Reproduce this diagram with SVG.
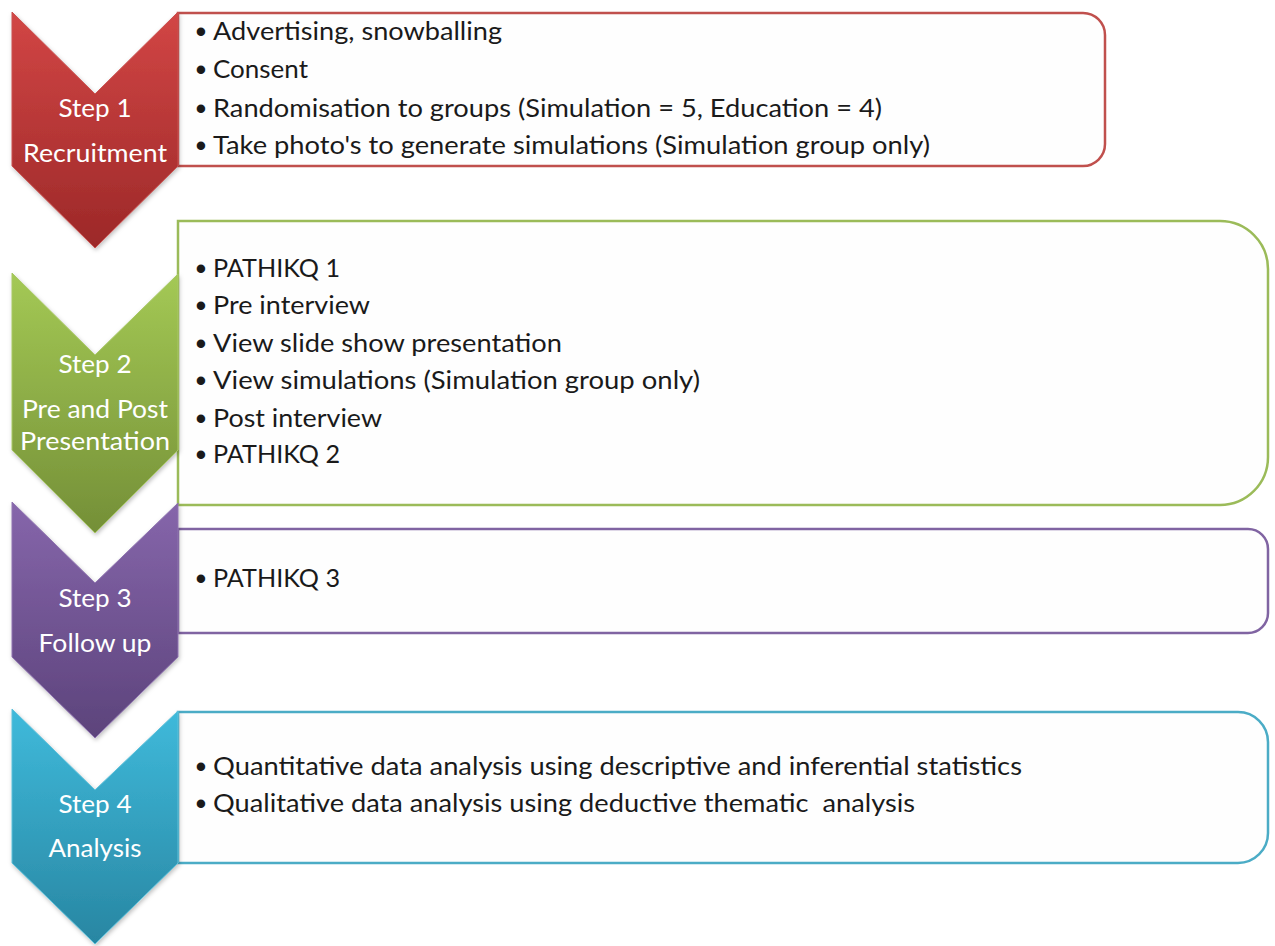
<svg xmlns="http://www.w3.org/2000/svg" width="1275" height="946" viewBox="0 0 1275 946">
<defs>
<linearGradient id="gRed" x1="0" y1="0" x2="0" y2="1"><stop offset="0" stop-color="#d24645"/><stop offset="1" stop-color="#9c2828"/></linearGradient>
<linearGradient id="gGreen" x1="0" y1="0" x2="0" y2="1"><stop offset="0" stop-color="#a4c955"/><stop offset="1" stop-color="#748f37"/></linearGradient>
<linearGradient id="gPurple" x1="0" y1="0" x2="0" y2="1"><stop offset="0" stop-color="#8666ab"/><stop offset="1" stop-color="#5c437b"/></linearGradient>
<linearGradient id="gTeal" x1="0" y1="0" x2="0" y2="1"><stop offset="0" stop-color="#3fbadb"/><stop offset="1" stop-color="#2886a2"/></linearGradient>
<filter id="sh" x="-10%" y="-10%" width="130%" height="130%"><feDropShadow dx="1" dy="2" stdDeviation="2" flood-color="#000" flood-opacity="0.25"/></filter>
</defs>
<style>
.box{fill:#fefefe;stroke-width:2.5}
.chev{filter:url(#sh);stroke-width:1}
.lbl{font-family:Lato,"Open Sans","Liberation Sans",sans-serif;font-size:25px;fill:#ffffff;text-anchor:middle}
.txt{font-family:Lato,"Open Sans","Liberation Sans",sans-serif;font-size:25px;fill:#1a1a1a;white-space:pre}
.bul{font-family:"Liberation Sans",sans-serif;font-size:31px;fill:#1a1a1a;text-anchor:middle}
</style>
<rect width="1275" height="946" fill="#ffffff"/>
<g id="connectors"></g>
<g id="box1">
<path class="box" stroke="#c0504d" d="M178,13 H1083 A22,22 0 0 1 1105,35 V144 A22,22 0 0 1 1083,166 H178 Z"/>
<text class="bul" x="201" y="42">•</text><text class="txt" x="213" y="40" textLength="289" lengthAdjust="spacingAndGlyphs">Advertising, snowballing</text>
<text class="bul" x="201" y="80">•</text><text class="txt" x="213" y="78" textLength="95" lengthAdjust="spacingAndGlyphs">Consent</text>
<text class="bul" x="201" y="119">•</text><text class="txt" x="213" y="117" textLength="669" lengthAdjust="spacingAndGlyphs">Randomisation to groups (Simulation = 5, Education = 4)</text>
<text class="bul" x="201" y="156">•</text><text class="txt" x="213" y="154" textLength="717" lengthAdjust="spacingAndGlyphs">Take photo's to generate simulations (Simulation group only)</text>
</g>
<g id="box2">
<path class="box" stroke="#9bbb59" d="M178,221 H1220 A48,48 0 0 1 1268,269 V457 A48,48 0 0 1 1220,505 H178 Z"/>
<text class="bul" x="201" y="279">•</text><text class="txt" x="213" y="277" textLength="127" lengthAdjust="spacingAndGlyphs">PATHIKQ 1</text>
<text class="bul" x="201" y="316">•</text><text class="txt" x="213" y="314" textLength="157" lengthAdjust="spacingAndGlyphs">Pre interview</text>
<text class="bul" x="201" y="354">•</text><text class="txt" x="213" y="352" textLength="349" lengthAdjust="spacingAndGlyphs">View slide show presentation</text>
<text class="bul" x="201" y="391">•</text><text class="txt" x="213" y="389" textLength="487" lengthAdjust="spacingAndGlyphs">View simulations (Simulation group only)</text>
<text class="bul" x="201" y="429">•</text><text class="txt" x="213" y="427" textLength="169" lengthAdjust="spacingAndGlyphs">Post interview</text>
<text class="bul" x="201" y="465">•</text><text class="txt" x="213" y="463" textLength="127" lengthAdjust="spacingAndGlyphs">PATHIKQ 2</text>
</g>
<g id="box3">
<path class="box" stroke="#8064a2" d="M178,529 H1248 A20,20 0 0 1 1268,549 V613 A20,20 0 0 1 1248,633 H178 Z"/>
<text class="bul" x="201" y="589">•</text><text class="txt" x="213" y="587" textLength="127" lengthAdjust="spacingAndGlyphs">PATHIKQ 3</text>
</g>
<g id="box4">
<path class="box" stroke="#4bacc6" d="M178,712 H1238 A30,30 0 0 1 1268,742 V833 A30,30 0 0 1 1238,863 H178 Z"/>
<text class="bul" x="201" y="777">•</text><text class="txt" x="213" y="775" textLength="809" lengthAdjust="spacingAndGlyphs">Quantitative data analysis using descriptive and inferential statistics</text>
<text class="bul" x="201" y="814">•</text><text class="txt" x="213" y="812" textLength="702" lengthAdjust="spacingAndGlyphs" xml:space="preserve">Qualitative data analysis using deductive thematic  analysis</text>
</g>
<g id="step1">
<polygon class="chev" fill="url(#gRed)" stroke="#c9514f" points="12,12 95,94 178,12 178,166 95,248 12,166"/>
<text class="lbl" x="95" y="117" textLength="73" lengthAdjust="spacingAndGlyphs">Step 1</text>
<text class="lbl" x="95" y="162" textLength="144" lengthAdjust="spacingAndGlyphs">Recruitment</text>
</g>
<g id="step2">
<polygon class="chev" fill="url(#gGreen)" stroke="#a8c865" points="12,273 95,355 178,274 178,450 95,533 12,450"/>
<text class="lbl" x="95" y="373" textLength="73" lengthAdjust="spacingAndGlyphs">Step 2</text>
<text class="lbl" x="95" y="418" textLength="146" lengthAdjust="spacingAndGlyphs">Pre and Post</text>
<text class="lbl" x="95" y="450" textLength="150" lengthAdjust="spacingAndGlyphs">Presentation</text>
</g>
<g id="step3">
<polygon class="chev" fill="url(#gPurple)" stroke="#8f74b0" points="12,502 95,583 178,503 178,657 95,738 12,657"/>
<text class="lbl" x="95" y="607" textLength="73" lengthAdjust="spacingAndGlyphs">Step 3</text>
<text class="lbl" x="95" y="652" textLength="113" lengthAdjust="spacingAndGlyphs">Follow up</text>
</g>
<g id="step4">
<polygon class="chev" fill="url(#gTeal)" stroke="#5cc0da" points="12,709 95,790 178,711 178,863 95,944 12,863"/>
<text class="lbl" x="95" y="813" textLength="73" lengthAdjust="spacingAndGlyphs">Step 4</text>
<text class="lbl" x="95" y="857" textLength="93" lengthAdjust="spacingAndGlyphs">Analysis</text>
</g>
</svg>
